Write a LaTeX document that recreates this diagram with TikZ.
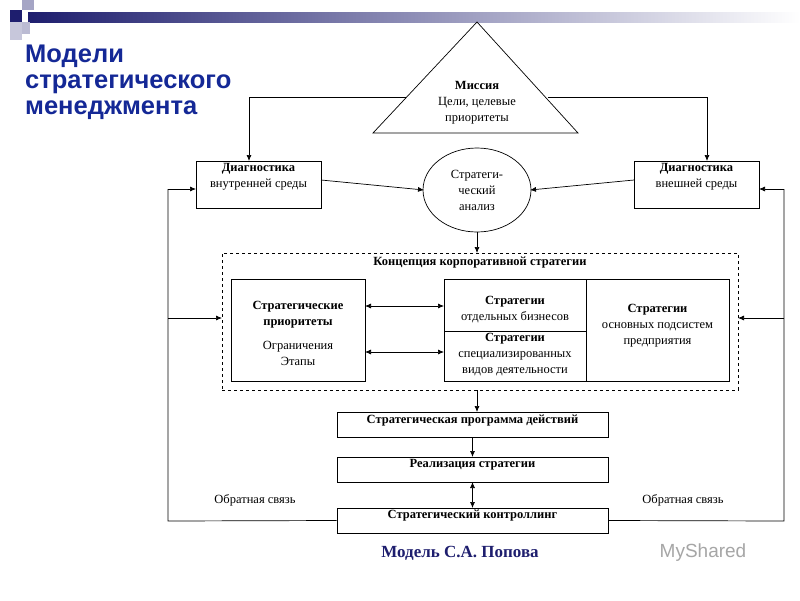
\documentclass[tikz,border=0pt]{standalone}
\usepackage{fontspec}
\setmainfont{Liberation Serif}
\newfontfamily\arialf{Liberation Sans}
\usetikzlibrary{arrows.meta,shapes.geometric}
\definecolor{ttl}{RGB}{20,40,150}
\definecolor{dkb}{RGB}{30,30,110}
\begin{document}
\begin{tikzpicture}[x=1pt,y=-1pt,
  bx/.style={draw,line width=0.7pt,inner sep=0pt},
  ln/.style={line width=0.7pt},
  ar/.style={ln,-{Latex[length=6pt,width=5pt]}},
  dar/.style={ln,{Latex[length=6pt,width=5pt]}-{Latex[length=6pt,width=5pt]}},
  t/.style={font=\fontsize{12.5}{16}\selectfont,align=center,inner sep=0pt},
  tb/.style={font=\bfseries\fontsize{12.5}{16}\selectfont,align=center,inner sep=0pt}]
\useasboundingbox (0,0) rectangle (800,600);
\fill[white] (0,0) rectangle (800,600);
% header
\shade[left color=dkb,right color=white] (28,12) rectangle (800,22);
\fill[dkb] (10,10) rectangle (22,22);
\fill[dkb!40] (22,0) rectangle (34,10);
\fill[dkb!25] (10,22) rectangle (22,40);
\fill[dkb!30] (22,22) rectangle (30,34);
\node[anchor=north west,text=ttl,font=\arialf\bfseries\fontsize{25.5}{26}\selectfont,align=left,inner sep=0pt] (title) at (25,45) {Модели\\стратегического\\менеджмента};
% triangle
\draw[ln] (477,22) -- (578,133) -- (373,133) -- cycle;
\node[t] (mis) at (477,103) {\textbf{Миссия}\\Цели, целевые\\приоритеты};
\coordinate (tl) at (406,97);
\coordinate (tr) at (548,97);
% diag boxes
\node[bx,minimum width=125pt,minimum height=47pt] (dl) at (258.5,184.5) {};
\node[t,anchor=north] at (258.5,163) {\textbf{Диагностика}\\внутренней среды};
\node[bx,minimum width=125pt,minimum height=47pt] (dr) at (696.5,184.5) {};
\node[t,anchor=north] at (696.5,163) {\textbf{Диагностика}\\внешней среды};
\draw[ar] (tl) -- (249,97) -- (249,161);
\draw[ar] (tr) -- (707,97) -- (707,161);
% ellipse
\node[draw,ln,ellipse,minimum width=108pt,minimum height=84pt,t] (sa) at (477,190) {Стратеги-\\ческий\\анализ};
\draw[ar] (321,180) -- (424,190);
\draw[ar] (634,180) -- (530,190);
% dashed concept
\node[draw,ln,dashed,minimum width=516pt,minimum height=137pt] (conc) at (480,321.5) {};
\node[tb] at (480,263) {Концепция корпоративной стратегии};
\draw[ar] (sa.south) -- (477,253);
\node[bx,minimum width=134pt,minimum height=102pt] (pr) at (298,330) {};
\node[t] at (298,333) {\textbf{Стратегические}\\\textbf{приоритеты}\\[8pt]Ограничения\\Этапы};
\draw[ln] (444,279) rectangle (729,381);
\draw[ln] (586,279) -- (586,381);
\draw[ln] (444,331) -- (586,331);
\node[t] (sb) at (515,310) {\textbf{Стратегии}\\отдельных бизнесов};
\node[t] (ss) at (515,355) {\textbf{Стратегии}\\специализированных\\видов деятельности};
\node[t] (so) at (657.5,326) {\textbf{Стратегии}\\основных подсистем\\предприятия};
\draw[dar] (365,306) -- (444,306);
\draw[dar] (365,352) -- (444,352);
% bottom boxes
\node[bx,minimum width=271pt,minimum height=25pt] (prog) at (472.5,424.5) {};
\node[tb] at (472.5,421) {Стратегическая программа действий};
\node[bx,minimum width=271pt,minimum height=25pt] (real) at (472.5,469.5) {};
\node[tb] at (472.5,465) {Реализация стратегии};
\node[bx,minimum width=271pt,minimum height=25pt] (ctrl) at (472.5,520.5) {};
\node[tb] at (472.5,516) {Стратегический контроллинг};
\draw[ar] (477,390) -- (477,412);
\draw[ar] (472.5,437) -- (472.5,457);
\draw[dar] (472.5,482) -- (472.5,508);
% feedback
\draw[ln] (ctrl.west) -- (168,521) -- (168,189);
\draw[ar] (168,189) -- (196,189);
\draw[ar] (168,318) -- (222,318);
\draw[ln] (ctrl.east) -- (784,521) -- (784,189);
\draw[ar] (784,189) -- (759,189);
\draw[ar] (784,318) -- (738,318);
\node[t] at (255,500) {Обратная связь};
\node[t] at (683,500) {Обратная связь};
\node[font=\bfseries\fontsize{17}{19}\selectfont,text=dkb] (pop) at (460,553) {Модель С.А. Попова};
\node[font=\arialf\fontsize{19}{21}\selectfont,text=gray!70] (ms) at (703,553) {MyShared};
\end{tikzpicture}
\end{document}
